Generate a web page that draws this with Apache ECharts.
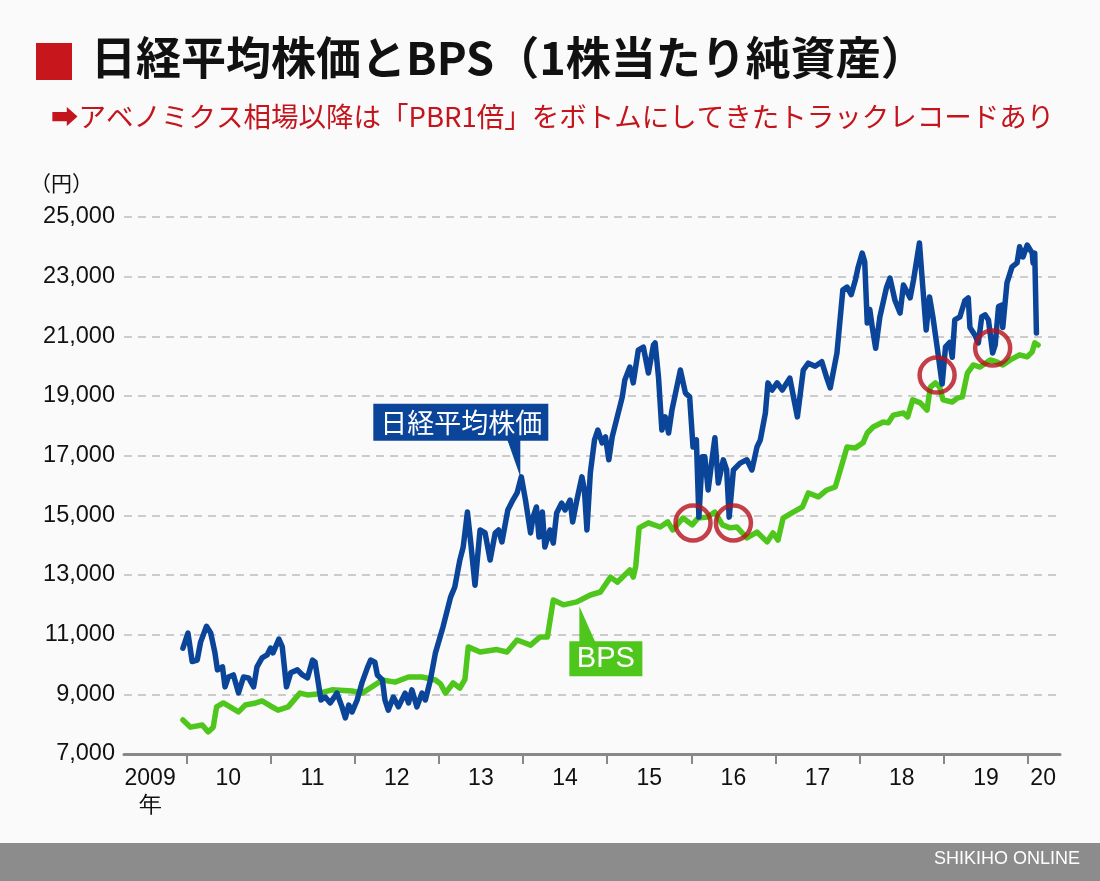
<!DOCTYPE html>
<html>
<head>
<meta charset="utf-8">
<script src="https://cdn.jsdelivr.net/npm/echarts@6/dist/echarts.min.js"></script>
<style>
  html, body { margin: 0; padding: 0; background: #fafafa; }
  #chart { width: 1100px; height: 881px; }
</style>
</head>
<body>
<div id="chart"></div>
<script>
// 年（小数）と値
const nikkeiT = [
  2009.96, 2010.02, 2010.07, 2010.13, 2010.17, 2010.24, 2010.29, 2010.31, 2010.34, 2010.37,
  2010.43, 2010.46, 2010.50, 2010.56, 2010.62, 2010.68, 2010.74, 2010.80, 2010.84, 2010.90,
  2010.96, 2011.00, 2011.03, 2011.10, 2011.14, 2011.19, 2011.24, 2011.32, 2011.38, 2011.44,
  2011.50, 2011.53, 2011.60, 2011.65, 2011.71, 2011.79, 2011.85, 2011.89, 2011.93, 2011.97,
  2012.03, 2012.09, 2012.15, 2012.19, 2012.24, 2012.27, 2012.33, 2012.36, 2012.40, 2012.46,
  2012.52, 2012.60, 2012.64, 2012.68, 2012.74, 2012.80, 2012.84, 2012.90, 2012.96, 2013.05,
  2013.14, 2013.19, 2013.25, 2013.29, 2013.34, 2013.38, 2013.43, 2013.49, 2013.55, 2013.61,
  2013.67, 2013.71, 2013.75, 2013.82, 2013.88, 2013.93, 2013.98, 2014.03, 2014.09, 2014.12,
  2014.16, 2014.19, 2014.23, 2014.26, 2014.32, 2014.36, 2014.40, 2014.46, 2014.50, 2014.56,
  2014.59, 2014.64, 2014.70, 2014.73, 2014.76, 2014.80, 2014.85, 2014.89, 2014.94, 2014.98,
  2015.02, 2015.06, 2015.12, 2015.18, 2015.21, 2015.27, 2015.31, 2015.37, 2015.43, 2015.49,
  2015.55, 2015.57, 2015.61, 2015.65, 2015.69, 2015.73, 2015.77, 2015.87, 2015.93, 2015.98,
  2016.02, 2016.06, 2016.09, 2016.13, 2016.16, 2016.20, 2016.25, 2016.28, 2016.32, 2016.38,
  2016.42, 2016.45, 2016.50, 2016.58, 2016.66, 2016.72, 2016.78, 2016.82, 2016.88, 2016.91,
  2016.96, 2017.02, 2017.08, 2017.17, 2017.26, 2017.33, 2017.39, 2017.47, 2017.55, 2017.61,
  2017.65, 2017.73, 2017.80, 2017.85, 2017.90, 2017.95, 2017.98, 2018.03, 2018.06, 2018.09,
  2018.12, 2018.15, 2018.19, 2018.24, 2018.32, 2018.36, 2018.42, 2018.48, 2018.52, 2018.60,
  2018.64, 2018.71, 2018.75, 2018.79, 2018.83, 2018.87, 2018.92, 2018.98, 2019.02, 2019.07,
  2019.10, 2019.13, 2019.19, 2019.25, 2019.29, 2019.31, 2019.37, 2019.41, 2019.45, 2019.49,
  2019.53, 2019.58, 2019.61, 2019.65, 2019.69, 2019.70, 2019.75, 2019.81, 2019.87, 2019.90,
  2019.94, 2019.99, 2020.05, 2020.06, 2020.08, 2020.10
];
const nikkeiV = [
  10550, 11050, 10100, 10150, 10750, 11280, 11060, 11100, 10400, 9820,
  9920, 9250, 9580, 9650, 9050, 9580, 9550, 9250, 9920, 10220,
  10320, 10550, 10390, 10850, 10600, 9250, 9720, 9820, 9650, 9550,
  10150, 10080, 8810, 8910, 8710, 9040, 8580, 8210, 8640, 8410,
  8810, 9410, 9880, 10150, 10080, 9650, 9480, 8810, 8470, 8910,
  8580, 9040, 8710, 9150, 8580, 9040, 8810, 9480, 10390, 11260,
  12260, 12600, 13500, 13940, 15110, 14070, 12660, 14510, 14410, 13500,
  14410, 14510, 14110, 15180, 15510, 15750, 16290, 15510, 14410, 14940,
  15280, 14270, 15110, 13940, 14510, 14070, 15080, 15410, 15180, 15510,
  14780, 15510, 16290, 15850, 14510, 16420, 17530, 17860, 17430, 17630,
  16860, 17630, 18300, 18970, 19540, 19970, 19440, 20540, 20640, 19770,
  20710, 20780, 19640, 17860, 18300, 17760, 18530, 19870, 19100, 18970,
  17290, 17530, 14940, 16960, 16960, 15850, 16960, 17600, 16080, 16860,
  16520, 14940, 16520, 16750, 16860, 16520, 17290, 17530, 18430, 19440,
  19200, 19440, 19200, 19600, 18300, 19870, 20100, 20000, 20150, 19600,
  19270, 20440, 22550, 22650, 22400, 22900, 23300, 23790, 23500, 21450,
  21900, 21300, 20600, 21650, 22650, 22950, 22200, 21780, 22720, 22290,
  22890, 24130, 22650, 21210, 22320, 21650, 20650, 19400, 20650, 20800,
  20300, 21550, 21650, 22200, 22290, 21300, 21040, 20780, 21650, 21720,
  21550, 20440, 20710, 22000, 22050, 21300, 22790, 23330, 23460, 24000,
  23660, 24060, 23790, 23460, 23790, 21110
];

const bpsT = [
  2009.96, 2010.05, 2010.19, 2010.26, 2010.32, 2010.36, 2010.44, 2010.52, 2010.62, 2010.70,
  2010.81, 2010.90, 2011.00, 2011.09, 2011.21, 2011.35, 2011.44, 2011.53, 2011.73, 2011.97,
  2012.09, 2012.33, 2012.48, 2012.64, 2012.80, 2012.96, 2013.02, 2013.08, 2013.17, 2013.25,
  2013.31, 2013.35, 2013.49, 2013.69, 2013.81, 2013.93, 2014.09, 2014.20, 2014.29, 2014.36,
  2014.48, 2014.64, 2014.80, 2014.92, 2015.04, 2015.12, 2015.27, 2015.31, 2015.34, 2015.38,
  2015.49, 2015.63, 2015.72, 2015.78, 2015.90, 2016.01, 2016.08, 2016.19, 2016.28, 2016.37,
  2016.46, 2016.54, 2016.66, 2016.78, 2016.90, 2016.97, 2017.03, 2017.09, 2017.21, 2017.32,
  2017.39, 2017.51, 2017.61, 2017.71, 2017.77, 2017.85, 2017.95, 2018.04, 2018.09, 2018.16,
  2018.28, 2018.34, 2018.40, 2018.52, 2018.57, 2018.63, 2018.72, 2018.80, 2018.84, 2018.90,
  2018.95, 2018.99, 2019.10, 2019.16, 2019.22, 2019.28, 2019.35, 2019.43, 2019.55, 2019.63,
  2019.70, 2019.79, 2019.90, 2019.99, 2020.05, 2020.08, 2020.12
];
const bpsV = [
  8140, 7900, 7970, 7740, 7900, 8580, 8710, 8580, 8410, 8640,
  8700, 8780, 8610, 8470, 8580, 9040, 8980, 9000, 9150, 9110,
  9040, 9480, 9410, 9580, 9580, 9480, 9350, 9040, 9380, 9210,
  9500, 10590, 10420, 10500, 10420, 10820, 10650, 10920, 10920, 12160,
  12000, 12100, 12330, 12430, 12930, 12760, 13170, 12930, 13300, 14580,
  14750, 14610, 14780, 14510, 14910, 14680, 14910, 14940, 15110, 14680,
  14580, 14610, 14240, 14440, 14110, 14410, 14170, 14910, 15110, 15280,
  15750, 15620, 15850, 15950, 16520, 17290, 17260, 17430, 17760, 17960,
  18130, 18100, 18360, 18430, 18300, 18870, 18770, 18530, 19300, 19440,
  19300, 18870, 18800, 18930, 18970, 19770, 20040, 19970, 20210, 20140,
  20040, 20210, 20380, 20310, 20480, 20780, 20710
];

// PBR1倍付近の丸印
const circleT = [2016.02, 2016.50, 2018.92, 2019.58];
const circleV = [14740, 14740, 19700, 20610];

// 軸
const yearTicks = [2010, 2011, 2012, 2013, 2014, 2015, 2016, 2017, 2018, 2019, 2020];
const yearLabelPos = [2009.57, 2010.5, 2011.5, 2012.5, 2013.5, 2014.5, 2015.5, 2016.5, 2017.5, 2018.5, 2019.5, 2020.18];
const yearLabels = ['2009\n年', '10', '11', '12', '13', '14', '15', '16', '17', '18', '19', '20'];

const BLUE = '#0b4599';
const GREEN = '#4fc61c';
const RED = '#c4141c';
const numFont = '"Liberation Sans", Arial, sans-serif';
const jpFont = '"Noto Sans CJK JP", sans-serif';

const chart = echarts.init(document.getElementById('chart'));

chart.setOption({
  backgroundColor: '#fafafa',
  animation: false,
  title: [
    {
      text: '日経平均株価とBPS（1株当たり純資産）',
      left: 86, top: 30,
      textStyle: { fontFamily: jpFont, fontSize: 45, fontWeight: 'bold', color: '#111' }
    },
    {
      text: '➡アベノミクス相場以降は「PBR1倍」をボトムにしてきたトラックレコードあり',
      left: 46, top: 98,
      textStyle: { fontFamily: jpFont, fontSize: 27.5, fontWeight: 'normal', color: RED }
    }
  ],
  grid: { left: 124, right: 40, top: 217, bottom: 127 },
  xAxis: {
    type: 'value',
    min: 2009.26,
    max: 2020.38,
    axisLine: { show: true, lineStyle: { color: '#888', width: 3 } },
    axisTick: { show: true, length: 10, lineStyle: { color: '#888', width: 2 }, customValues: yearTicks },
    axisLabel: {
      customValues: yearLabelPos,
      margin: 11,
      fontFamily: numFont, fontSize: 23, color: '#111', lineHeight: 27,
      formatter: function (v) {
        for (let i = 0; i < yearLabelPos.length; i++) {
          if (Math.abs(yearLabelPos[i] - v) < 0.001) return yearLabels[i];
        }
        return '';
      }
    },
    splitLine: { show: false }
  },
  yAxis: {
    type: 'value',
    min: 7000, max: 25000, interval: 2000,
    axisLine: { show: false },
    axisTick: { show: false },
    axisLabel: {
      margin: 9, fontFamily: numFont, fontSize: 23.5, color: '#111',
      formatter: v => v.toLocaleString('en-US')
    },
    splitLine: { lineStyle: { color: '#bdbdbd', width: 1.5, type: [8, 6] } }
  },
  series: [
    {
      name: 'BPS', type: 'line', showSymbol: false,
      data: bpsT.map((t, i) => [t, bpsV[i]]),
      lineStyle: { color: GREEN, width: 5.5, join: 'round', cap: 'round' }
    },
    {
      name: '日経平均株価', type: 'line', showSymbol: false,
      data: nikkeiT.map((t, i) => [t, nikkeiV[i]]),
      lineStyle: { color: BLUE, width: 5.5, join: 'round', cap: 'round' }
    },
    {
      type: 'scatter', symbol: 'circle', symbolSize: 35, z: 5,
      data: circleT.map((t, i) => [t, circleV[i]]),
      itemStyle: { color: 'rgba(0,0,0,0)', borderColor: '#b5111b', borderWidth: 4.5 }
    }
  ]
});

// 吹き出し（データ点から位置を求める）
const nk = chart.convertToPixel({ gridIndex: 0 }, [2013.98, 16290]);
const bp = chart.convertToPixel({ gridIndex: 0 }, [2014.67, 12150]);
const nkApex = [nk[0] - 1, nk[1]];
const bpApex = [bp[0], bp[1] + 6];

chart.setOption({
  graphic: [
    { type: 'rect', left: 36, top: 43, shape: { width: 36, height: 37 }, style: { fill: '#c8161d' } },
    {
      type: 'text', left: 30, top: 173,
      style: { text: '（円）', fontFamily: jpFont, fontSize: 21, fill: '#111' }
    },
    // 日経平均株価
    {
      type: 'rect',
      shape: { x: nkApex[0] - 147, y: nkApex[1] - 73, width: 175, height: 37 },
      style: { fill: BLUE }
    },
    {
      type: 'polygon',
      shape: { points: [[nkApex[0] - 13, nkApex[1] - 37], [nkApex[0], nkApex[1] - 37], nkApex] },
      style: { fill: BLUE }
    },
    {
      type: 'text',
      style: {
        x: nkApex[0] - 59, y: nkApex[1] - 54.5, text: '日経平均株価',
        align: 'center', verticalAlign: 'middle',
        fontFamily: jpFont, fontSize: 27, fill: '#fff'
      }
    },
    // BPS
    {
      type: 'rect',
      shape: { x: bpApex[0] - 10, y: bpApex[1] + 35, width: 73, height: 35 },
      style: { fill: GREEN }
    },
    {
      type: 'polygon',
      shape: { points: [bpApex, [bpApex[0], bpApex[1] + 36], [bpApex[0] + 16, bpApex[1] + 36]] },
      style: { fill: GREEN }
    },
    {
      type: 'text',
      style: {
        x: bpApex[0] + 26.5, y: bpApex[1] + 53, text: 'BPS',
        align: 'center', verticalAlign: 'middle',
        fontFamily: numFont, fontSize: 29, fill: '#fff'
      }
    },
    // フッター
    { type: 'rect', left: 0, top: 843, shape: { width: 1100, height: 38 }, style: { fill: '#8c8c8c' } },
    {
      type: 'text', right: 20, top: 850,
      style: { text: 'SHIKIHO ONLINE', fontFamily: '"Liberation Sans Narrow", "Liberation Sans", sans-serif', fontSize: 18, fill: '#fff' }
    }
  ]
});
</script>
</body>
</html>
